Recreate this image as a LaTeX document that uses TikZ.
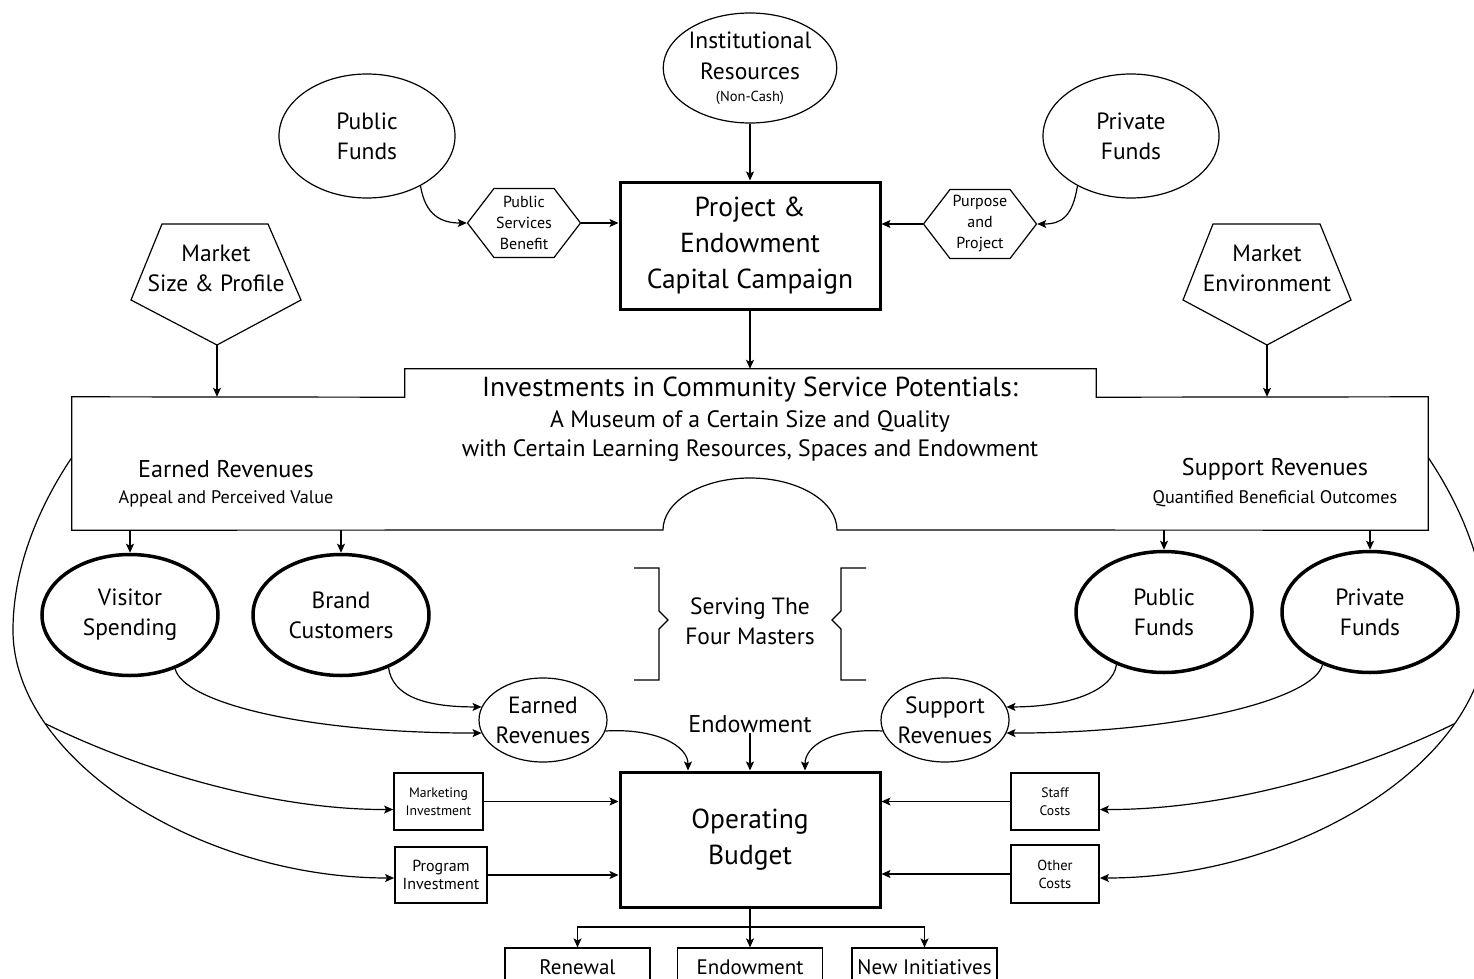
\documentclass[tikz,border=0pt]{standalone}
\usepackage{fontspec}
\setmainfont{PT Sans}
\usetikzlibrary{arrows.meta, positioning, shapes.geometric, shapes.symbols}

\newcommand{\fsBig}{\fontsize{27.5}{36}\selectfont}
\newcommand{\fsTitle}{\fontsize{27.5}{30}\selectfont}
\newcommand{\fsMid}{\fontsize{23.5}{30}\selectfont}
\newcommand{\fsHead}{\fontsize{24.2}{30}\selectfont}
\newcommand{\fsSub}{\fontsize{23.7}{29}\selectfont}
\newcommand{\fsEnd}{\fontsize{21}{25}\selectfont}
\newcommand{\fsSmall}{\fontsize{18.2}{21}\selectfont}
\newcommand{\fsHex}{\fontsize{16}{21}\selectfont}
\newcommand{\fsBoxL}{\fontsize{16}{18}\selectfont}
\newcommand{\fsBoxM}{\fontsize{14.5}{18}\selectfont}
\newcommand{\fsTiny}{\fontsize{13.7}{18}\selectfont}

\begin{document}
\begin{tikzpicture}[
    x=1pt, y=1pt,
    arrow/.style={-{Stealth[length=9pt, width=8pt, inset=2pt]}, line width=1.2pt},
    conn/.style={line width=1.2pt},
    oval/.style={draw, ellipse, line width=1.2pt, align=center, inner sep=0pt, font=\fsMid},
    bigoval/.style={oval, line width=3.5pt, minimum width=176pt, minimum height=121pt},
    hexa/.style={draw, signal, signal to=west and east, signal pointer angle=105,
        line width=1.2pt, minimum width=113pt, minimum height=69pt, inner sep=0pt,
        align=center, font=\fsHex},
    mainbox/.style={draw, rectangle, line width=3pt, align=center, minimum width=260pt, font=\fsBig},
    smallbox/.style={draw, rectangle, line width=1.8pt, align=center, inner sep=0pt},
    endbox/.style={draw, rectangle, line width=1.2pt, minimum width=145pt, minimum height=38pt, font=\fsEnd},
    txt/.style={align=center, inner sep=0pt}
]
\useasboundingbox (0,0) rectangle (1474,-979);
\clip (0,0) rectangle (1474,-979);

% top row
\node[oval, minimum width=172pt, minimum height=110pt] (inst) at (750,-68)
    {Institutional\\[1pt]Resources\\[-8pt]{\fsBoxM (Non-Cash)}};
\node[oval, minimum width=176pt, minimum height=124pt] (pubtop) at (367,-136) {Public\\Funds};
\node[oval, minimum width=176pt, minimum height=124pt] (privtop) at (1131,-136) {Private\\Funds};

\node[hexa] (psb) at (524,-223) {Public\\Services\\Benefit};
\node[hexa] (pap) at (980,-224) {Purpose\\and\\Project};

\node[mainbox, minimum height=127pt] (campaign) at (750,-245.5) {Project \&\\Endowment\\Capital Campaign};

% market pentagons
\node[txt, font=\fsMid] (mktsize) at (216,-268) {Market\\Size \& Profile};
\draw[conn] (162,-224) -- (268,-224) -- (301,-300) -- (217,-345) coordinate (mktsizetip) -- (131,-300) -- cycle;
\node[txt, font=\fsMid] (mktenv) at (1267,-268) {Market\\Environment};
\draw[conn] (1213,-224) -- (1320,-224) -- (1351,-300) -- (1267,-345) coordinate (mktenvtip) -- (1183,-300) -- cycle;

% investments box
\node[minimum width=1356pt, minimum height=133pt, inner sep=0pt] (invest) at (750,-463.5) {};
\node[minimum width=691pt, minimum height=28pt, inner sep=0pt] (tab) at (750.5,-383) {};
\draw[conn] (tab.south west) -- (tab.north west) -- (tab.north east) -- (tab.south east)
    -- (invest.north east) -- (invest.south east) -- (837,-530)
    arc[start angle=0, end angle=180, x radius=87, y radius=52]
    -- (invest.south west) -- (invest.north west) -- cycle;

\node[txt, font=\fsTitle] (investtitle) at (750,-390) {Investments in Community Service Potentials:};
\node[txt, font=\fsSub] (investsub) at (750,-436) {A Museum of a Certain Size and Quality\\with Certain Learning Resources, Spaces and Endowment};
\node[txt, font=\fsHead] (earnedhead) at (226,-469) {Earned Revenues};
\node[txt, font=\fsSmall] (earnedsub) at (226,-499) {Appeal and Perceived Value};
\node[txt, font=\fsHead] (supporthead) at (1275,-469) {Support Revenues};
\node[txt, font=\fsSmall] (supportsub) at (1275,-499) {Quantified Beneficial Outcomes};

% four masters
\node[bigoval] (visitor) at (130,-615) {Visitor\\Spending};
\node[bigoval] (brand) at (341,-615) {Brand\\Customers};
\node[bigoval] (pubfunds) at (1164,-612) {Public\\Funds};
\node[bigoval] (privfunds) at (1370,-612) {Private\\Funds};

\draw[conn] (634,-568) -- (659,-568) -- (659,-611) -- (668,-620) -- (659,-629) -- (659,-680) -- (634,-680);
\draw[conn] (866,-568) -- (841,-568) -- (841,-611) -- (832,-620) -- (841,-629) -- (841,-680) -- (866,-680);
\node[txt, font=\fsMid] (serving) at (750,-621) {Serving The\\Four Masters};

% revenues
\node[oval, minimum width=128pt, minimum height=84pt, inner xsep=-4pt] (earned) at (543,-720) {Earned\\Revenues};
\node[oval, minimum width=128pt, minimum height=84pt, inner xsep=-4pt] (support) at (945,-720) {Support\\Revenues};
\node[txt, font=\fsHead] (endowlbl) at (750,-724) {Endowment};

% operating budget
\node[mainbox, minimum height=135pt] (opbudget) at (750,-839.5) {Operating\\Budget};
\node[smallbox, minimum width=89pt, minimum height=57pt, font=\fsTiny] (mktinv) at (438.5,-801.5) {Marketing\\Investment};
\node[smallbox, minimum width=92pt, minimum height=56pt, font=\fsBoxL] (proginv) at (441,-875) {Program\\Investment};
\node[smallbox, minimum width=88pt, minimum height=57pt, font=\fsTiny] (staff) at (1055,-801.5) {Staff\\Costs};
\node[smallbox, minimum width=88pt, minimum height=58pt, font=\fsBoxM] (other) at (1055,-874) {Other\\Costs};

\node[endbox] (renewal) at (577.5,-967) {Renewal};
\node[endbox] (endowbox) at (750,-967) {Endowment};
\node[endbox] (newinit) at (924.5,-967) {New Initiatives};
\coordinate (split) at (750,-927);

% connectors
\draw[arrow] (inst) -- (campaign);
\draw[arrow] (pubtop.-43) .. controls +(5,-30) and +(-25,0) .. (psb.west);
\draw[arrow] (privtop.-137) .. controls +(-5,-30) and +(25,0) .. (pap.east);
\draw[arrow] (psb.east) -- (psb.east -| campaign.west);
\draw[arrow] (pap.west) -- (pap.west -| campaign.east);
\draw[arrow] (campaign.south) -- (campaign.south |- tab.north);
\draw[arrow] (mktsizetip) -- (mktsizetip |- invest.north);
\draw[arrow] (mktenvtip) -- (mktenvtip |- invest.north);

\draw[arrow] (visitor.north |- invest.south) -- (visitor.north);
\draw[arrow] (brand.north |- invest.south) -- (brand.north);
\draw[arrow] (pubfunds.north |- invest.south) -- (pubfunds.north);
\draw[arrow] (privfunds.north |- invest.south) -- (privfunds.north);

\draw[arrow] (brand.-48) .. controls +(4,-27) and +(-60,0) .. (earned.168);
\draw[arrow] (visitor.-50) .. controls +(8,-33) and +(-180,0) .. (earned.192);
\draw[arrow] (pubfunds.-132) .. controls +(-4,-27) and +(60,0) .. (support.12);
\draw[arrow] (privfunds.-132) .. controls +(-8,-33) and +(180,0) .. (support.-12);

\draw[arrow] (earned.-10) .. controls +(50,3) and +(0,25) .. ([xshift=-62pt]opbudget.north);
\draw[arrow] (support.190) .. controls +(-50,3) and +(0,25) .. ([xshift=55pt]opbudget.north);
\draw[arrow] (endowlbl) -- (opbudget);

\draw[arrow] (mktinv.east) -- (mktinv.east -| opbudget.west);
\draw[arrow] (proginv.east) -- (proginv.east -| opbudget.west);
\draw[arrow] (staff.west) -- (staff.west -| opbudget.east);
\draw[arrow] (other.west) -- (other.west -| opbudget.east);

\draw[conn] (opbudget.south) -- (split);
\draw[arrow] (split) -| (renewal.north);
\draw[arrow] (split) -- (endowbox.north);
\draw[arrow] (split) -| (newinit.north);

% outer loops
\draw[arrow] ([yshift=6pt]invest.west) .. controls (30,-520) and (13,-580) .. (13,-630)
    .. controls (13,-760) and (200,-878) .. coordinate[pos=0.25] (lsplit) ([yshift=-3pt]proginv.west);
\draw[arrow] (lsplit) .. controls (150,-775) and (280,-810) .. ([yshift=-8pt]mktinv.west);
\draw[arrow] ([yshift=6pt]invest.east) .. controls (1470,-520) and (1487,-580) .. (1487,-630)
    .. controls (1487,-760) and (1300,-878) .. coordinate[pos=0.25] (rsplit) ([yshift=-4pt]other.east);
\draw[arrow] (rsplit) .. controls (1350,-775) and (1220,-810) .. ([yshift=-8pt]staff.east);

\end{tikzpicture}
\end{document}
